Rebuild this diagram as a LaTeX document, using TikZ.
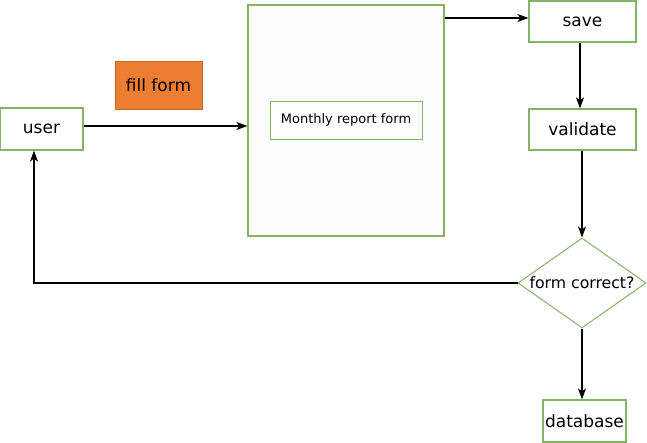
\documentclass[tikz,border=0pt]{standalone}
\usepackage{fontspec}
\setmainfont{DejaVu Sans}
\usetikzlibrary{shapes.geometric,arrows.meta}
\definecolor{grn}{HTML}{82B366}
\definecolor{org}{HTML}{ED7D31}
\definecolor{orgd}{HTML}{C0692E}
\begin{document}
\begin{tikzpicture}[x=1pt,y=-1pt,
  box/.style={draw=grn,line width=1.2pt,fill=white,rectangle,inner sep=0pt,font=\fontsize{17}{20}\selectfont},
  arr/.style={draw=black,line width=1.3pt,-{Stealth[length=11pt,width=8pt,inset=3pt]}}]
\useasboundingbox (0,0) rectangle (647,443);
\node[box,minimum width=83pt,minimum height=42pt] (user) at (41.5,129) {user};
\node[draw=orgd,fill=org,line width=0.8pt,minimum width=87pt,minimum height=48pt,inner sep=0pt,font=\fontsize{17}{20}\selectfont] (fill) at (158.5,85) {fill form};
\node[box,fill=black!0.7,minimum width=196pt,minimum height=231pt] (form) at (346,120.5) {};
\node[draw=grn,line width=0.8pt,fill=white,minimum width=152pt,minimum height=38pt,inner sep=0pt,font=\fontsize{13}{15}\selectfont] (mrf) at (346,120) {Monthly report form};
\node[box,minimum width=107pt,minimum height=41pt] (save) at (582.5,21.5) {save};
\node[box,minimum width=107pt,minimum height=41pt] (validate) at (582.5,129.5) {validate};
\node[draw=grn,line width=1pt,fill=white,diamond,shape aspect=1.43,minimum width=128pt,minimum height=90pt,inner sep=0pt] (dec) at (582,283) {};
\node[font=\fontsize{15.7}{18}\selectfont,inner sep=0pt] (dectext) at (dec.center) {form correct?};
\node[box,minimum width=83pt,minimum height=42pt] (db) at (584.5,421) {database};
\draw[arr] (user.east |- 0,126) -- (form.west |- 0,126);
\draw[arr] (form.east |- 0,18) -- (save.west |- 0,18);
\draw[arr] (save.south -| 580,0) -- (validate.north -| 580,0);
\draw[arr] (validate.south -| 582,0) -- (dec.north);
\draw[arr] (dec.west) -- (34,283) -- (user.south -| 34,0);
\draw[arr] (dec.south) -- (db.north -| 582,0);
\end{tikzpicture}
\end{document}
